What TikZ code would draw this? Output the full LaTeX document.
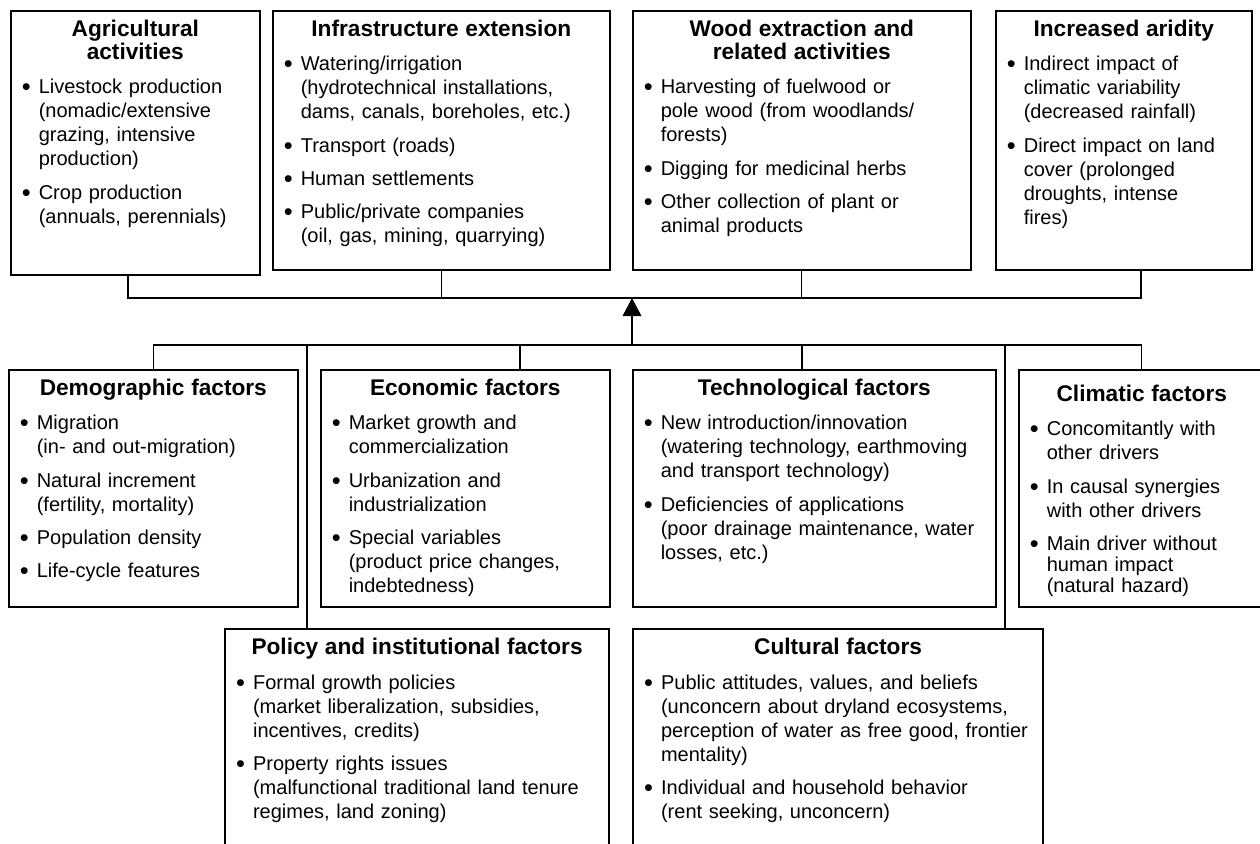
\documentclass[tikz,border=0pt]{standalone}
\usepackage{fontspec}
\setmainfont{Liberation Sans}
\usepackage{enumitem}
\usetikzlibrary{arrows.meta}

\setlist[itemize]{label={\raisebox{-1.6pt}{\fontsize{19}{18}\selectfont\textbullet}}, leftmargin=12pt, labelsep=6pt, topsep=8pt,
  partopsep=0pt, itemsep=7pt, parsep=0pt}
\newcommand{\boxhead}[1]{{\centering\fontsize{17}{17.25}\selectfont\bfseries #1\par}}

\tikzset{
  factor/.style 2 args={draw, line width=1.2pt, anchor=north west, align=left,
    inner xsep=9pt, inner ysep=5pt, text width=#1, text height=14pt, text depth=#2,
    font=\fontsize{15}{18}\selectfont},
  bus/.style={line width=1pt},
}

\begin{document}
\begin{tikzpicture}[x=0.75pt, y=-0.75pt]
\useasboundingbox (0,0) rectangle (1260,843);
\clip (0,0) rectangle (1260,843);

% activities (top row)
\node[factor={168.75pt}{174pt}] (agri) at (10,10) {\boxhead{Agricultural\\activities}
\begin{itemize}
\item Livestock production\\(nomadic/extensive\\grazing, intensive\\production)
\item Crop production\\(annuals, perennials)
\end{itemize}};
\node[factor={234.75pt}{170.25pt}] (infra) at (272,10) {\boxhead{Infrastructure extension}
\begin{itemize}
\item Watering/irrigation\\(hydrotechnical installations,\\dams, canals, boreholes, etc.)
\item Transport (roads)
\item Human settlements
\item Public/private companies\\(oil, gas, mining, quarrying)
\end{itemize}};
\node[factor={235.5pt}{170.25pt}] (wood) at (632,10) {\boxhead{Wood extraction and\\related activities}
\begin{itemize}
\item Harvesting of fuelwood or\\pole wood (from woodlands/\\forests)
\item Digging for medicinal herbs
\item Other collection of plant or\\animal products
\end{itemize}};
\node[factor={174pt}{170.25pt}] (arid) at (995,10) {\boxhead{Increased aridity}
\begin{itemize}
\item Indirect impact of\\climatic variability\\(decreased rainfall)
\item Direct impact on land\\cover (prolonged\\droughts, intense\\fires)
\end{itemize}};

% underlying factors
\node[factor={198.75pt}{153.75pt}] (demo) at (8,369) {\boxhead{Demographic factors}
\begin{itemize}
\item Migration\\(in- and out-migration)
\item Natural increment\\(fertility, mortality)
\item Population density
\item Life-cycle features
\end{itemize}};
\node[factor={198.75pt}{153.75pt}] (econ) at (320,369) {\boxhead{Economic factors}
\begin{itemize}
\item Market growth and\\commercialization
\item Urbanization and\\industrialization
\item Special variables\\(product price changes,\\indebtedness)
\end{itemize}};
\node[factor={254.25pt}{153.75pt}] (tech) at (632,369) {\boxhead{Technological factors}
\begin{itemize}
\item New introduction/innovation\\(watering technology, earthmoving\\and transport technology)
\item Deficiencies of applications\\(poor drainage maintenance, water\\losses, etc.)
\end{itemize}};
\node[factor={166.5pt}{149.25pt}, text height=18.5pt] (clim) at (1018,369) {\boxhead{Climatic factors}
\begin{itemize}
\item Concomitantly with\\other drivers
\item In causal synergies\\with other drivers
\item Main driver without\\[-2.25pt]human impact\\[-2.25pt](natural hazard)
\end{itemize}};
\node[factor={270pt}{171pt}, line width=1.6pt] (policy) at (224,628) {\boxhead{Policy and institutional factors}
\begin{itemize}
\item Formal growth policies\\(market liberalization, subsidies,\\incentives, credits)
\item Property rights issues\\(malfunctional traditional land tenure\\regimes, land zoning)
\end{itemize}};
\node[factor={289.5pt}{171pt}, line width=1.6pt] (cult) at (632,628) {\boxhead{Cultural factors}
\begin{itemize}
\item Public attitudes, values, and beliefs\\(unconcern about dryland ecosystems,\\perception of water as free good, frontier\\mentality)
\item Individual and household behavior\\(rent seeking, unconcern)
\end{itemize}};

% buses
\coordinate (topbus) at (632,298);
\coordinate (lowbus) at (632,345);
\draw[bus] ([xshift=88.5pt]agri.south west) |- (topbus) -| ([xshift=109.5pt]arid.south west);
\draw[bus] (infra.south) -- (infra.south |- topbus);
\draw[bus] (wood.south) -- (wood.south |- topbus);
\draw[bus, -{Triangle[width=14pt, length=13.5pt]}] (lowbus) -- (topbus);

\draw[bus] (demo.north) |- (lowbus) -| (clim.north);
\coordinate (econtop) at ([xshift=150pt]econ.north west);
\coordinate (techtop) at ([xshift=127.5pt]tech.north west);
\coordinate (policytop) at ([xshift=62.25pt]policy.north west);
\coordinate (culttop) at ([xshift=279.75pt]cult.north west);
\foreach \p in {econtop, techtop, policytop, culttop}
  \draw[bus] (\p) -- (\p |- lowbus);

\end{tikzpicture}
\end{document}
